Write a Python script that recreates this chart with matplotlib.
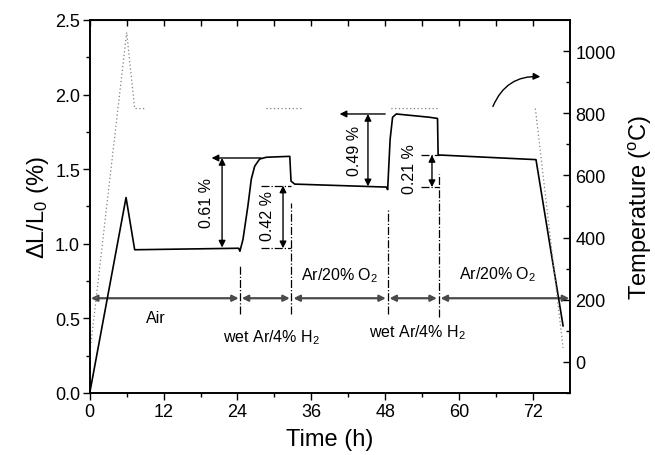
import numpy as np
import matplotlib
matplotlib.use("Agg")
import matplotlib.pyplot as plt

plt.rcParams['font.family'] = ['Liberation Sans', 'DejaVu Sans']
plt.rcParams['mathtext.fontset'] = 'custom'
plt.rcParams['mathtext.rm'] = 'Liberation Sans'
plt.rcParams['mathtext.it'] = 'Liberation Sans:italic'

# dilatation curve (time in h, dL/L0 in %)
time_h = [0, 5.9, 7.3, 24.2, 24.4, 24.9, 25.7, 26.25, 26.8, 27.6, 28.7, 32.5, 32.7,
          33.3, 48.2, 48.4, 48.8, 49.2, 49.8, 55.2, 56.5, 56.6, 56.8, 72.5, 76.9]
dl_pct = [0, 1.31, 0.96, 0.97, 0.95, 1.03, 1.255, 1.434, 1.52, 1.568, 1.58, 1.586, 1.42,
          1.40, 1.38, 1.363, 1.70, 1.848, 1.87, 1.848, 1.84, 1.595, 1.595, 1.564, 0.45]

# temperature (only the visible dotted pieces)
temp_time = [0, 6.0, 7.3, 8.9, np.nan, 28.7, 34.6, np.nan, 49.0, 56.5, np.nan, 72.4, 76.9]
temp_c = [25, 1060, 815, 815, np.nan, 815, 815, np.nan, 815, 815, np.nan, 815, 45]

# gas atmosphere periods
gas_start = [0.2, 24.7, 33.1, 48.7, 57.0]
gas_end = [24.2, 32.5, 48.1, 56.4, 77.9]
gas_names = ['Air', 'wet Ar/4% H$_2$', 'Ar/20% O$_2$', 'wet Ar/4% H$_2$', 'Ar/20% O$_2$']
gas_label_x = [10.7, 29.5, 40.6, 53.2, 66.3]
gas_label_y = [0.505, 0.375, 0.79, 0.41, 0.80]

# switching times (dash-dot markers)
switch_t = [24.4, 32.7, 48.4, 56.7]
switch_top = [0.86, 1.27, 1.23, 1.47]
switch_bottom = [0.53, 0.53, 0.53, 0.51]

fig = plt.figure(figsize=(6.55, 4.56), dpi=100)
ax = fig.add_axes([0.137, 0.136, 0.733, 0.818])
ax2 = ax.twinx()

ax.plot(time_h, dl_pct, color='black', lw=1.2, zorder=3)
ax2.plot(temp_time, temp_c, color='#808080', lw=0.9, linestyle=(0, (1, 2)))

ax.set_xlim(0, 78)
ax.set_ylim(0, 2.5)
ax2.set_ylim(-100, 1100)

ax.set_xticks([0, 12, 24, 36, 48, 60, 72])
ax.set_xticks(np.arange(6, 78, 12), minor=True)
ax.set_yticks([0, 0.5, 1.0, 1.5, 2.0, 2.5])
ax.set_yticks(np.arange(0.25, 2.5, 0.5), minor=True)
ax.set_yticklabels(['0.0', '0.5', '1.0', '1.5', '2.0', '2.5'])
ax2.set_yticks([0, 200, 400, 600, 800, 1000])
ax2.set_yticks(np.arange(-100, 1100, 200), minor=True)

ax.tick_params(axis='both', which='major', direction='out', length=5, width=1, labelsize=13, pad=2)
ax.tick_params(axis='both', which='minor', direction='out', length=3, width=1)
ax.tick_params(right=False, top=False)
ax2.tick_params(axis='y', which='major', direction='in', length=5, width=1, labelsize=13, pad=4)
ax2.tick_params(axis='y', which='minor', direction='in', length=3, width=1)

top = ax.secondary_xaxis('top')
top.set_xticks(np.arange(0, 78, 6))
top.tick_params(direction='in', length=4, width=1, labeltop=False)

for a in (ax, ax2):
    for s in a.spines.values():
        s.set_linewidth(1.2)

ax.set_xlabel('Time (h)', fontsize=17, labelpad=6)
ax.set_ylabel('$\\Delta$L/L$_0$ (%)', fontsize=17, labelpad=3)
ax2.set_ylabel('Temperature ($^\\mathrm{o}$C)', fontsize=17, labelpad=8)

# gas periods
arr_gas = dict(arrowstyle='<|-|>', color='#4a4a4a', lw=1.6, mutation_scale=9, shrinkA=0, shrinkB=0)
for s, e in zip(gas_start, gas_end):
    ax.annotate('', xy=(e, 0.635), xytext=(s, 0.635), arrowprops=arr_gas, zorder=2)
for name, x, y in zip(gas_names, gas_label_x, gas_label_y):
    ax.text(x, y, name, ha='center', va='center', fontsize=11.5)

for t, y0, y1 in zip(switch_t, switch_bottom, switch_top):
    ax.plot([t, t], [y0, y1], color='black', lw=0.9, linestyle='-.')

arr_one = dict(arrowstyle='-|>', color='black', lw=1.0, mutation_scale=10, shrinkA=0, shrinkB=0)
arr_two = dict(arrowstyle='<|-|>', color='black', lw=1.0, mutation_scale=10, shrinkA=0, shrinkB=0)

# 0.61 %
ax.annotate('', xy=(19.8, 1.575), xytext=(27.8, 1.575), arrowprops=arr_one)
ax.annotate('', xy=(21.5, 1.575), xytext=(21.5, 0.975), arrowprops=arr_two)
ax.text(18.9, 1.28, '0.61 %', rotation=90, ha='center', va='center', fontsize=11.5)

# 0.42 %
ax.plot([27.9, 32.7], [1.39, 1.39], color='black', lw=0.9, linestyle='-.')
ax.plot([27.9, 32.7], [0.97, 0.97], color='black', lw=0.9, linestyle='-.')
ax.annotate('', xy=(31.4, 1.39), xytext=(31.4, 0.97), arrowprops=arr_two)
ax.text(28.9, 1.19, '0.42 %', rotation=90, ha='center', va='center', fontsize=11.5)

# 0.49 %
ax.annotate('', xy=(40.6, 1.87), xytext=(48.0, 1.87), arrowprops=arr_one)
ax.annotate('', xy=(45.2, 1.87), xytext=(45.2, 1.385), arrowprops=arr_two)
ax.text(43.0, 1.63, '0.49 %', rotation=90, ha='center', va='center', fontsize=11.5)

# 0.21 %
ax.plot([53.8, 56.7], [1.595, 1.595], color='black', lw=0.9, linestyle='-.')
ax.plot([53.8, 56.7], [1.38, 1.38], color='black', lw=0.9, linestyle='-.')
ax.annotate('', xy=(55.6, 1.595), xytext=(55.6, 1.38), arrowprops=arr_two)
ax.text(52.0, 1.51, '0.21 %', rotation=90, ha='center', va='center', fontsize=11.5)

# curved arrow pointing to temperature axis
ax.annotate('', xy=(73.2, 2.12), xytext=(65.5, 1.92),
            arrowprops=dict(arrowstyle='-|>', color='black', lw=1.0, mutation_scale=10,
                            shrinkA=0, shrinkB=0, connectionstyle='arc3,rad=-0.35'))

fig.savefig('out.png', dpi=100)
